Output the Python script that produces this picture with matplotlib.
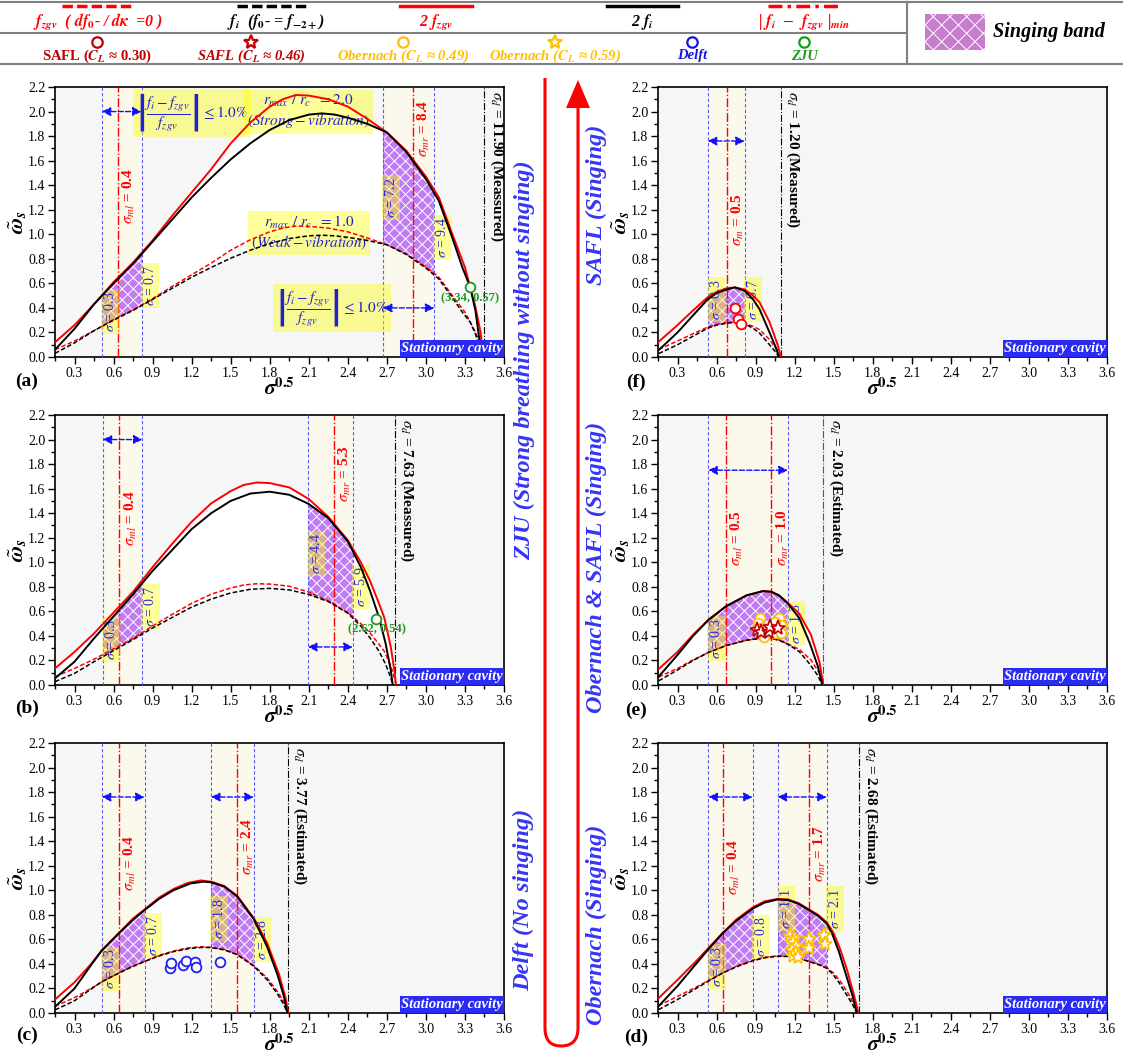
import numpy as np
import matplotlib
matplotlib.use('Agg')
import matplotlib.pyplot as plt
from matplotlib.patches import Rectangle, Polygon, PathPatch
from matplotlib.path import Path
from matplotlib.ticker import MultipleLocator, FormatStrFormatter

plt.rcParams['font.family'] = 'serif'
plt.rcParams['font.serif'] = ['Liberation Serif', 'DejaVu Serif']
plt.rcParams['mathtext.fontset'] = 'stix'
plt.rcParams['hatch.linewidth'] = 0.7

RED = '#ff0000'
BLUE = '#1f1fff'
GOLD = '#ffc000'
GREEN = '#1a9a1a'
DKRED = '#c00000'
PURPLE = '#c07cf2'

# ---- curves: x positions and 2f values (dashed curves are half of these) ----
xi_a = [0.15, 0.3, 0.45, 0.6, 0.75, 0.9, 1.05, 1.2, 1.35, 1.5, 1.65, 1.8, 1.95, 2.1, 2.2, 2.3, 2.4, 2.55, 2.7,
        2.85, 3.0, 3.1, 3.2, 3.28, 3.34, 3.38, 3.41, 3.42]
fi2_a = [0.06, 0.23, 0.43, 0.60, 0.76, 0.94, 1.12, 1.30, 1.46, 1.61, 1.74, 1.85, 1.93, 1.975, 1.985, 1.975, 1.95,
         1.90, 1.83, 1.67, 1.45, 1.27, 0.98, 0.73, 0.57, 0.38, 0.15, 0.0]
xz_a = [0.15, 0.3, 0.45, 0.6, 0.75, 0.9, 1.05, 1.2, 1.35, 1.5, 1.65, 1.8, 1.9, 2.0, 2.1, 2.25, 2.4, 2.55, 2.7,
        2.85, 3.0, 3.1, 3.2, 3.3, 3.38, 3.42, 3.44]
fz2_a = [0.12, 0.26, 0.43, 0.61, 0.77, 0.95, 1.15, 1.34, 1.53, 1.74, 1.91, 2.04, 2.10, 2.135, 2.13, 2.10, 2.04,
         1.94, 1.83, 1.68, 1.47, 1.30, 1.01, 0.73, 0.41, 0.2, 0.0]

xi_b = [0.15, 0.3, 0.45, 0.6, 0.75, 0.9, 1.05, 1.2, 1.35, 1.5, 1.65, 1.8, 1.95, 2.1, 2.25, 2.4, 2.5, 2.57, 2.64,
        2.69, 2.73, 2.745]
fi2_b = [0.054, 0.19, 0.38, 0.56, 0.74, 0.93, 1.10, 1.27, 1.40, 1.50, 1.56, 1.575, 1.55, 1.475, 1.36, 1.17, 0.96,
         0.77, 0.55, 0.34, 0.12, 0.0]
xz_b = [0.15, 0.3, 0.45, 0.6, 0.75, 0.9, 1.05, 1.2, 1.35, 1.5, 1.6, 1.7, 1.8, 1.95, 2.1, 2.25, 2.4, 2.5, 2.57,
        2.63, 2.68, 2.73, 2.76, 2.77]
fz2_b = [0.135, 0.27, 0.42, 0.59, 0.76, 0.96, 1.15, 1.33, 1.48, 1.58, 1.63, 1.65, 1.645, 1.61, 1.515, 1.37, 1.18,
         1.0, 0.85, 0.69, 0.55, 0.31, 0.1, 0.0]

xi_c = [0.15, 0.3, 0.42, 0.51, 0.64, 0.75, 0.84, 0.95, 1.06, 1.19, 1.29, 1.35, 1.45, 1.55, 1.68, 1.78, 1.86, 1.91,
        1.935]
fi2_c = [0.05, 0.2, 0.38, 0.51, 0.65, 0.76, 0.84, 0.93, 1.0, 1.055, 1.07, 1.065, 1.03, 0.95, 0.76, 0.54, 0.31,
         0.13, 0.0]
xz_c = [0.15, 0.3, 0.42, 0.51, 0.64, 0.75, 0.84, 0.95, 1.06, 1.17, 1.27, 1.35, 1.45, 1.55, 1.68, 1.78, 1.87, 1.92,
        1.942]
fz2_c = [0.11, 0.25, 0.39, 0.51, 0.65, 0.77, 0.845, 0.94, 1.01, 1.06, 1.08, 1.07, 1.035, 0.955, 0.77, 0.57, 0.32,
         0.13, 0.0]

xi_d = [0.154, 0.3, 0.45, 0.538, 0.646, 0.75, 0.877, 0.97, 1.07, 1.15, 1.23, 1.308, 1.38, 1.446, 1.49, 1.54,
        1.595, 1.646, 1.677]
fi2_d = [0.055, 0.22, 0.41, 0.52, 0.65, 0.75, 0.85, 0.90, 0.925, 0.92, 0.89, 0.84, 0.79, 0.73, 0.64, 0.50, 0.31,
         0.135, 0.0]
xz_d = [0.154, 0.3, 0.45, 0.538, 0.646, 0.75, 0.877, 0.97, 1.07, 1.15, 1.23, 1.308, 1.38, 1.446, 1.5, 1.55, 1.6,
        1.655, 1.69]
fz2_d = [0.12, 0.27, 0.43, 0.53, 0.65, 0.76, 0.86, 0.91, 0.93, 0.925, 0.895, 0.845, 0.80, 0.74, 0.65, 0.52, 0.36,
         0.15, 0.0]

xi_e = [0.155, 0.3, 0.42, 0.537, 0.671, 0.83, 0.956, 1.02, 1.08, 1.147, 1.236, 1.313, 1.376, 1.407, 1.41]
fi2_e = [0.068, 0.245, 0.40, 0.53, 0.64, 0.73, 0.765, 0.76, 0.73, 0.665, 0.544, 0.35, 0.16, 0.027, 0.0]
xz_e = [0.155, 0.3, 0.42, 0.537, 0.671, 0.83, 0.956, 1.02, 1.08, 1.147, 1.236, 1.325, 1.39, 1.42]
fz2_e = [0.13, 0.27, 0.41, 0.53, 0.64, 0.73, 0.765, 0.76, 0.73, 0.67, 0.58, 0.41, 0.19, 0.0]

xi_f = [0.155, 0.3, 0.42, 0.532, 0.6, 0.677, 0.74, 0.816, 0.88, 0.93, 1.007, 1.058, 1.079]
fi2_f = [0.056, 0.20, 0.34, 0.47, 0.52, 0.55, 0.567, 0.54, 0.47, 0.39, 0.20, 0.07, 0.0]
xz_f = [0.155, 0.3, 0.42, 0.532, 0.6, 0.677, 0.74, 0.816, 0.88, 0.93, 1.007, 1.07, 1.094]
fz2_f = [0.124, 0.26, 0.38, 0.487, 0.53, 0.56, 0.567, 0.55, 0.5, 0.446, 0.285, 0.097, 0.0]

# ---- experiment points ----
delft_x = [1.036, 1.044, 1.133, 1.156, 1.226, 1.236, 1.42]
delft_y = [0.364, 0.405, 0.391, 0.427, 0.413, 0.378, 0.413]
obn_star_x = [1.164, 1.197, 1.185, 1.21, 1.18, 1.21, 1.19, 1.223, 1.308, 1.308, 1.428, 1.433]
obn_star_y = [0.63, 0.61, 0.576, 0.549, 0.516, 0.489, 0.462, 0.457, 0.603, 0.53, 0.638, 0.565]
obn_circ_x = [0.931, 0.918, 0.944, 0.962, 1.033, 1.046, 1.079, 1.092, 1.092, 1.046]
obn_circ_y = [0.544, 0.503, 0.462, 0.394, 0.462, 0.421, 0.549, 0.489, 0.421, 0.511]
safl_star_x = [0.911, 0.944, 1.0, 1.014, 1.071]
safl_star_y = [0.448, 0.435, 0.43, 0.476, 0.466]
safl_circ_x = [0.74, 0.766, 0.786]
safl_circ_y = [0.40, 0.31, 0.27]
zju_x = [3.34, 2.62]
zju_y = [0.57, 0.54]

# ---- band edges (sigma^0.5), sigma labels and sigma_m lines ----
bands_a = [(0.51, 0.815), (2.67, 3.065)]
bands_b = [(0.517, 0.822), (2.094, 2.438)]
bands_c = [(0.51, 0.838), (1.349, 1.677)]
bands_d = [(0.538, 0.877), (1.069, 1.446)]
bands_e = [(0.537, 1.147)]
bands_f = [(0.533, 0.816)]

sig_a = ['0.3', '0.7', '7.2', '9.4']
sig_b = ['0.3', '0.7', '4.4', '5.9']
sig_c = ['0.3', '0.7', '1.8', '2.8']
sig_d = ['0.3', '0.8', '1.1', '2.1']
sig_e = ['0.3', '1.3']
sig_f = ['0.3', '0.7']

sm_a = [(0.635, 'ml', '0.4'), (2.90, 'mr', '8.4')]
sm_b = [(0.645, 'ml', '0.4'), (2.29, 'mr', '5.3')]
sm_c = [(0.638, 'ml', '0.4'), (1.549, 'mr', '2.4')]
sm_d = [(0.646, 'ml', '0.4'), (1.308, 'mr', '1.7')]
sm_e = [(0.671, 'ml', '0.5'), (1.02, 'mr', '1.0')]
sm_f = [(0.677, 'm', '0.5')]

sd_x = {'a': 3.45, 'b': 2.761, 'c': 1.941, 'd': 1.692, 'e': 1.42, 'f': 1.094}
sd_txt = {'a': '11.90 (Meassured)', 'b': '7.63 (Meassured)', 'c': '3.77 (Estimated)',
          'd': '2.68 (Estimated)', 'e': '2.03 (Estimated)', 'f': '1.20 (Measured)'}

panels = {
    'a': dict(pos=(55, 87), xi=xi_a, fi2=fi2_a, xz=xz_a, fz2=fz2_a, bands=bands_a, sig=sig_a, sm=sm_a,
              sig_y=[0.37, 0.58, 1.30, 0.97], sm_y=[1.31, 1.86], arrow_y=[2.0, 0.40]),
    'b': dict(pos=(55, 415), xi=xi_b, fi2=fi2_b, xz=xz_b, fz2=fz2_b, bands=bands_b, sig=sig_b, sm=sm_b,
              sig_y=[0.37, 0.64, 1.07, 0.80], sm_y=[1.36, 1.72], arrow_y=[2.0, 0.31]),
    'c': dict(pos=(55, 743), xi=xi_c, fi2=fi2_c, xz=xz_c, fz2=fz2_c, bands=bands_c, sig=sig_c, sm=sm_c,
              sig_y=[0.36, 0.63, 0.77, 0.60], sm_y=[1.22, 1.36], arrow_y=[1.76, 1.76]),
    'f': dict(pos=(658, 87), xi=xi_f, fi2=fi2_f, xz=xz_f, fz2=fz2_f, bands=bands_f, sig=sig_f, sm=sm_f,
              sig_y=[0.47, 0.47], sm_y=[1.12], arrow_y=[1.76]),
    'e': dict(pos=(658, 415), xi=xi_e, fi2=fi2_e, xz=xz_e, fz2=fz2_e, bands=bands_e, sig=sig_e, sm=sm_e,
              sig_y=[0.38, 0.50], sm_y=[1.2, 1.2], arrow_y=[1.75]),
    'd': dict(pos=(658, 743), xi=xi_d, fi2=fi2_d, xz=xz_d, fz2=fz2_d, bands=bands_d, sig=sig_d, sm=sm_d,
              sig_y=[0.38, 0.62, 0.85, 0.85], sm_y=[1.19, 1.30], arrow_y=[1.76, 1.76]),
}

W, H = 1123, 1057
fig = plt.figure(figsize=(W / 100, H / 100), dpi=100)


def draw_panel(key, p):
    ax = fig.add_axes([p['pos'][0] / W, 1 - (p['pos'][1] + 270) / H, 449 / W, 270 / H])
    ax.set_facecolor('#f6f6f6')
    ax.set_xlim(0.15, 3.6)
    ax.set_ylim(0, 2.2)
    xi, fi2 = np.array(p['xi']), np.array(p['fi2'])
    xz, fz2 = np.array(p['xz']), np.array(p['fz2'])

    for x0, x1 in p['bands']:
        ax.axvspan(x0, x1, color='#fbf8ec', lw=0, zorder=0.5)
    # white area between the outer solid curve and the inner dashed curve
    ax.fill(np.concatenate([xz, xi[::-1]]), np.concatenate([fz2, fi2[::-1] / 2]),
            color='white', lw=0, zorder=1)
    # singing band
    for x0, x1 in p['bands']:
        patch = ax.fill(np.concatenate([xi, xi[::-1]]), np.concatenate([fi2, fi2[::-1] / 2]),
                        facecolor=PURPLE, edgecolor='white', hatch='xxx', lw=0, zorder=2)[0]
        patch.set_clip_path(Rectangle((x0, 0), x1 - x0, 2.2, transform=ax.transData))

    edges = [x for b in p['bands'] for x in b]
    for x in edges:
        ax.axvline(x, color='#5a5aff', ls=(0, (3, 2)), lw=0.8, zorder=3)
    for x, txt, yc in zip(edges, p['sig'], p['sig_y']):
        ax.text(x + 0.008, yc, r'$\sigma$ = ' + txt, rotation=90, ha='left', va='center', color='#2626e0',
                fontsize=10, bbox=dict(boxstyle='square,pad=0.15', fc='#ffff00', alpha=0.4, ec='none'),
                zorder=3.5)
    for (x, sub, val), yc in zip(p['sm'], p['sm_y']):
        ax.axvline(x, color=RED, ls='-.', lw=1.0, zorder=3)
        ax.text(x + 0.025, yc, r'$\sigma_{%s}$ = %s' % (sub, val), rotation=90, ha='left', va='center',
                color=RED, fontsize=11, fontweight='bold', zorder=3.5)
    sd = sd_x[key]
    ax.axvline(sd, color='#555555' if key == 'e' else 'k', ls='-.', lw=0.8, zorder=3)
    ax.text(sd + 0.025, 2.17, r'$\sigma_d$ = ' + sd_txt[key], rotation=-90, ha='left', va='top',
            fontsize=11, fontweight='bold', zorder=3.5)

    for (x0, x1), y in zip(p['bands'], p['arrow_y']):
        ax.annotate('', xy=(x1, y), xytext=(x0, y),
                    arrowprops=dict(arrowstyle='<|-|>', color='#1010ff', lw=1, ls='--',
                                    mutation_scale=13, shrinkA=0, shrinkB=0), zorder=5)

    ax.plot(xz, fz2 / 2, color=RED, ls=(0, (3, 1.5)), lw=1.1, zorder=4)
    ax.plot(xi, fi2 / 2, color='k', ls=(0, (3, 1.5)), lw=1.1, zorder=4)
    ax.plot(xz, fz2, color=RED, lw=1.4, zorder=4)
    ax.plot(xi, fi2, color='k', lw=1.4, zorder=4.1)

    ax.add_patch(Rectangle((2.8, 0), 0.8, 0.135, facecolor='#2b2bf2', edgecolor='none', zorder=6))
    ax.text(3.2, 0.068, 'Stationary cavity', color='white', fontsize=10.5, fontweight='bold',
            fontstyle='italic', ha='center', va='center', zorder=7)

    ax.xaxis.set_major_locator(MultipleLocator(0.3))
    ax.xaxis.set_minor_locator(MultipleLocator(0.15))
    ax.yaxis.set_major_locator(MultipleLocator(0.2))
    ax.yaxis.set_minor_locator(MultipleLocator(0.1))
    ax.xaxis.set_major_formatter(FormatStrFormatter('%.1f'))
    ax.yaxis.set_major_formatter(FormatStrFormatter('%.1f'))
    ax.tick_params(which='major', direction='out', length=5, width=1, labelsize=10, pad=2)
    ax.tick_params(which='minor', direction='out', length=3, width=1)
    for s in ax.spines.values():
        s.set_linewidth(1.2)
    ax.set_xlabel(r'$\mathbfit{\sigma}^{\mathbf{0.5}}$', fontsize=15, labelpad=-1)
    ax.set_ylabel(r'$\tilde{\mathbfit{\omega}}_{\mathbfit{s}}$', fontsize=16)
    ax.yaxis.set_label_coords(-0.058, 0.5)
    return ax


axes = {k: draw_panel(k, p) for k, p in panels.items()}

# experimental data
ms_c = dict(ls='none', marker='o', ms=7, mfc='white', mew=1.3, zorder=8)
ms_s = dict(ls='none', marker='*', ms=11, mfc='white', mew=1.2, zorder=8)
axes['c'].plot(delft_x, delft_y, mec=BLUE, **ms_c)
axes['d'].plot(obn_star_x, obn_star_y, mec=GOLD, **ms_s)
axes['e'].plot(obn_circ_x, obn_circ_y, mec=GOLD, **ms_c)
axes['e'].plot(safl_star_x, safl_star_y, mec=DKRED, **ms_s)
axes['f'].plot(safl_circ_x, safl_circ_y, mec=RED, **ms_c)
for k, x, y in zip(['a', 'b'], zju_x, zju_y):
    axes[k].plot([x], [y], mec=GREEN, **ms_c)
    axes[k].text(x, y - 0.09, '(%.2f, %.2f)' % (x, y), color=GREEN, fontsize=9, fontweight='bold',
                 ha='center', va='center', zorder=8)

# yellow formula boxes in (a)
ybox = dict(boxstyle='square,pad=0.2', fc='#ffff00', alpha=0.4, ec='none')
crit = r'$\left|\dfrac{f_i - f_{zgv}}{f_{zgv}}\right| \leq 1.0\%$'
axa = axes['a']
axa.text(1.2, 1.99, crit, fontsize=11, color='#2020d0', ha='center', va='center', bbox=ybox, zorder=3.5)
axa.text(2.28, 0.40, crit, fontsize=11, color='#2020d0', ha='center', va='center', bbox=ybox, zorder=3.5)
axa.text(2.095, 2.0, r'$r_{max}\ /\ r_c\ \ = 2.0$' + '\n' + r'$\left(Strong-vibration\right)$', fontsize=11,
         color='#2020d0', ha='center', va='center', multialignment='center', bbox=ybox, zorder=3.5)
axa.text(2.1, 1.01, r'$r_{max}\ /\ r_c\ \ = 1.0$' + '\n' + r'$\left(Weak-vibration\right)$', fontsize=11,
         color='#2020d0', ha='center', va='center', multialignment='center', bbox=ybox, zorder=3.5)

# overlay in pixel coordinates: legend, panel tags, central arrow
ov = fig.add_axes([0, 0, 1, 1])
ov.set_xlim(0, W)
ov.set_ylim(H, 0)
ov.set_axis_off()
ov.patch.set_alpha(0)

ov.plot([0, W], [2, 2], color='#808080', lw=1.5)
ov.plot([0, 907], [33, 33], color='#808080', lw=1.5)
ov.plot([0, W], [64, 64], color='#808080', lw=1.5)
ov.plot([907, 907], [2, 64], color='#808080', lw=1.5)

leg_lines = [(62, 133, RED, (0, (3, 1.2))), (237, 310, 'k', (0, (3, 1.2))), (400, 472, RED, '-'),
             (607, 678, 'k', '-'), (768, 840, RED, (0, (4, 1.5, 1, 1.5)))]
for x0, x1, c, ls in leg_lines:
    ov.plot([x0, x1], [6, 6], color=c, ls=ls, lw=2.5)
bfi = dict(fontsize=11.5, fontweight='bold', fontstyle='italic', ha='center', va='center')
ov.text(98, 22, r'$\mathbfit{f}_{\mathbfit{zgv}}$  ( $\mathbfit{df}_{\mathbf{0}}$- / $\mathbfit{d\kappa}$  =0 )',
        color=RED, **bfi)
ov.text(276, 22, r'$\mathbfit{f}_{\mathbfit{i}}$  ($\mathbfit{f}_{\mathbf{0}}$- = $\mathbfit{f}_{\mathbf{-2+}}$)',
        color='k', **bfi)
ov.text(436, 22, r'2 $\mathbfit{f}_{\mathbfit{zgv}}$', color=RED, **bfi)
ov.text(642, 22, r'2 $\mathbfit{f}_{\mathbfit{i}}$', color='k', **bfi)
ov.text(804, 22, r'| $\mathbfit{f}_{\mathbfit{i}}$  $-$  $\mathbfit{f}_{\mathbfit{zgv}}$ |$_{\mathbfit{min}}$',
        color=RED, **bfi)

leg_marks = [(97, 'o', DKRED, r'SAFL ($\mathbfit{C}_{\mathbfit{L}}$ ≈ 0.30)', 'normal'),
             (251, '*', DKRED, r'SAFL ($\mathbfit{C}_{\mathbfit{L}}$ ≈ 0.46)', 'italic'),
             (403, 'o', GOLD, r'Obernach ($\mathbfit{C}_{\mathbfit{L}}$ ≈ 0.49)', 'italic'),
             (555, '*', GOLD, r'Obernach ($\mathbfit{C}_{\mathbfit{L}}$ ≈ 0.59)', 'italic'),
             (692, 'o', '#1515e0', 'Delft', 'italic'),
             (804, 'o', GREEN, 'ZJU', 'italic')]
for x, m, c, lbl, st in leg_marks:
    ov.plot([x], [42], marker=m, ms=10 if m == '*' else 7.5, mfc='white', mec=c, mew=1.6)
    ov.text(x, 56, lbl, color=c, fontsize=10.5, fontweight='bold', fontstyle=st, ha='center', va='center')

ov.add_patch(Rectangle((925, 14), 60, 36, facecolor='#c77dcc', edgecolor='white', hatch='xx', lw=0))
ov.text(993, 32, 'Singing band', fontsize=14.5, fontweight='bold', fontstyle='italic', ha='left', va='center')

for lbl, (x, y) in zip(['(a)', '(b)', '(c)', '(f)', '(e)', '(d)'],
                       [(27, 381), (27, 708), (27, 1035), (636, 382), (636, 710), (636, 1037)]):
    ov.text(x, y, lbl, fontsize=14, fontweight='bold', ha='center', va='center')

# central U-shaped arrow
verts = [(545, 78), (545, 1028), (545, 1046), (561, 1046), (578, 1046), (578, 1028), (578, 106)]
codes = [Path.MOVETO, Path.LINETO, Path.CURVE3, Path.CURVE3, Path.CURVE3, Path.CURVE3, Path.LINETO]
ov.add_patch(PathPatch(Path(verts, codes), facecolor='none', edgecolor=RED, lw=2.2))
ov.add_patch(Polygon([(566, 108), (590, 108), (578, 80)], closed=True, facecolor=RED, edgecolor='none'))

side = dict(rotation=90, ha='center', va='center', color='#3535f5', fontsize=17.5, fontweight='bold',
            fontstyle='italic')
ov.text(524, 360, 'ZJU (Strong breathing without singing)', **side)
ov.text(524, 900, 'Delft (No singing)', **side)
ov.text(596, 205, 'SAFL (Singing)', **side)
ov.text(596, 567, 'Obernach & SAFL (Singing)', **side)
ov.text(596, 925, 'Obernach (Singing)', **side)

fig.savefig('out.png', dpi=100)
